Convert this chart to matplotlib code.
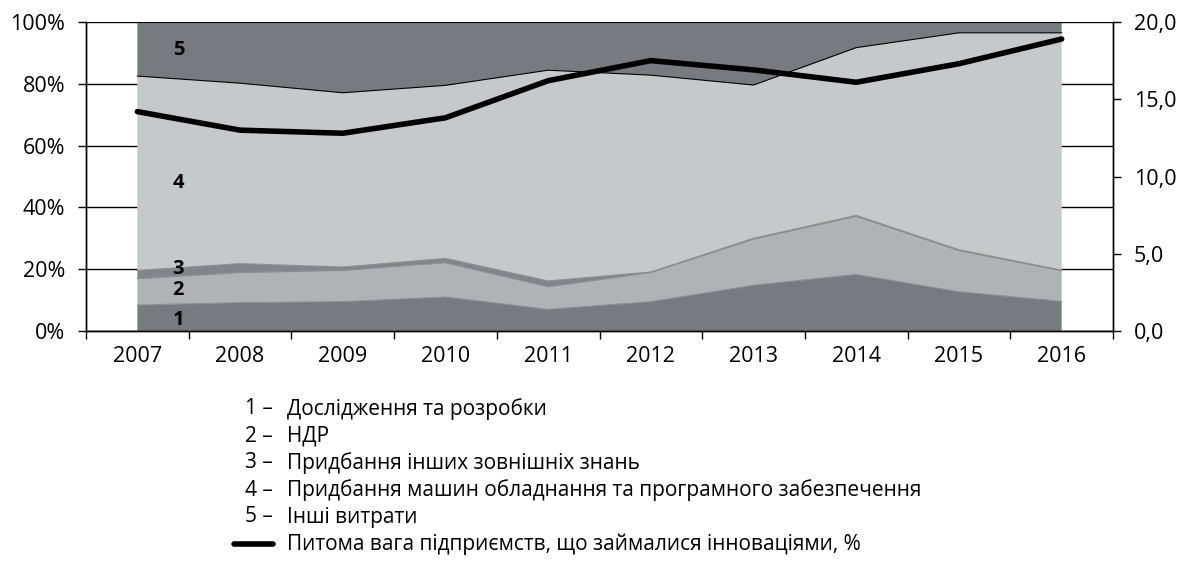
import numpy as np
import matplotlib
matplotlib.use("Agg")
from matplotlib import pyplot as plt
from matplotlib.ticker import FixedLocator

plt.rcParams['font.family'] = ['Open Sans', 'DejaVu Sans']

years = ['2007', '2008', '2009', '2010', '2011', '2012', '2013', '2014', '2015', '2016']
# shares of innovation spending, % (stacked)
s1 = [8.4, 9.2, 9.5, 11.0, 7.0, 9.5, 14.8, 18.3, 12.7, 9.6]
s2 = [8.5, 9.7, 10.1, 11.1, 7.3, 9.4, 14.9, 18.8, 13.3, 9.9]
s3 = [2.7, 2.9, 1.1, 1.4, 1.9, 0.2, 0.3, 0.3, 0.3, 0.2]
s4 = [62.9, 58.4, 56.4, 56.0, 68.2, 63.7, 49.6, 54.3, 70.2, 76.8]
s5 = [17.5, 19.8, 22.9, 20.5, 15.6, 17.2, 20.4, 8.3, 3.5, 3.5]
# share of innovating enterprises, %
share = [14.2, 13.0, 12.8, 13.8, 16.2, 17.5, 16.9, 16.1, 17.3, 18.9]

labels = ['Дослідження та розробки', 'НДР', 'Придбання інших зовнішніх знань',
          'Придбання машин обладнання та програмного забезпечення', 'Інші витрати']
line_label = 'Питома вага підприємств, що займалися інноваціями, %'

colors = ['#777b7f', '#b0b3b6', '#82868a', '#c6c9ca', '#777b7f']
edges = ['#8a8e92', '#8a8e92', '#8a8e92', '#000000', '#000000']

fig = plt.figure(figsize=(11.83, 5.83), dpi=100)
ax = fig.add_axes([86/1183, 1-331/583, (1113-86)/1183, 309/583])

x = np.arange(len(years))
ax.stackplot(x, s1, s2, s3, s4, s5, colors=colors, zorder=2)
cum = np.cumsum([s1, s2, s3, s4, s5], axis=0)
for i in range(5):
    ax.plot(x, cum[i], color=edges[i], lw=0.8, zorder=3)

ax.set_xlim(-0.5, 9.5)
ax.set_ylim(0, 100)
ax.yaxis.set_major_locator(FixedLocator([0, 20, 40, 60, 80, 100]))
ax.set_yticklabels(['0%', '20%', '40%', '60%', '80%', '100%'], fontsize=15.5)
ax.xaxis.set_major_locator(FixedLocator(np.arange(-0.5, 10, 1)))
ax.xaxis.set_minor_locator(FixedLocator(x))
ax.set_xticklabels([])
ax.set_xticklabels(years, minor=True, fontsize=15.5)
ax.tick_params(axis='x', which='major', length=6, width=1, direction='out')
ax.tick_params(axis='x', which='minor', length=0, pad=11)
ax.tick_params(axis='y', length=6, width=1, direction='out', pad=9)
ax.grid(axis='y', color='black', lw=1, zorder=1)
ax.set_axisbelow(True)
for sp in ax.spines.values():
    sp.set_linewidth(1)
ax.spines['top'].set_visible(False)

# region labels
for txt, yv in [('5', 90.8), ('4', 47.9), ('3', 20.0), ('2', 13.3), ('1', 3.6)]:
    ax.text(0.4, yv, txt, fontsize=14.5, fontweight='bold', ha='center', va='center', zorder=5)

ax2 = ax.twinx()
ax2.plot(x, share, color='black', lw=4, solid_capstyle='round', zorder=6)
ax2.set_ylim(0, 20)
ax2.yaxis.set_major_locator(FixedLocator([0, 5, 10, 15, 20]))
ax2.set_yticklabels(['0,0', '5,0', '10,0', '15,0', '20,0'], fontsize=15.5)
ax2.tick_params(axis='y', length=6, width=1, direction='out', pad=9)
for sp in ax2.spines.values():
    sp.set_linewidth(1)
ax2.spines['top'].set_visible(False)

# legend written as text lines
rows = [409, 436, 463, 490, 517, 544]
for i, lab in enumerate(labels):
    yy = 1 - rows[i] / 583
    fig.text(273/1183, yy, f'{i+1} –', fontsize=15, ha='right', va='center')
    fig.text(287/1183, yy, lab, fontsize=15, ha='left', va='center')
yy = 1 - rows[5] / 583
fig.add_artist(plt.Line2D([234/1183, 273/1183], [yy, yy], color='black', lw=4,
                          solid_capstyle='round'))
fig.text(287/1183, yy, line_label, fontsize=15, ha='left', va='center')

fig.savefig('out.png', dpi=100)
